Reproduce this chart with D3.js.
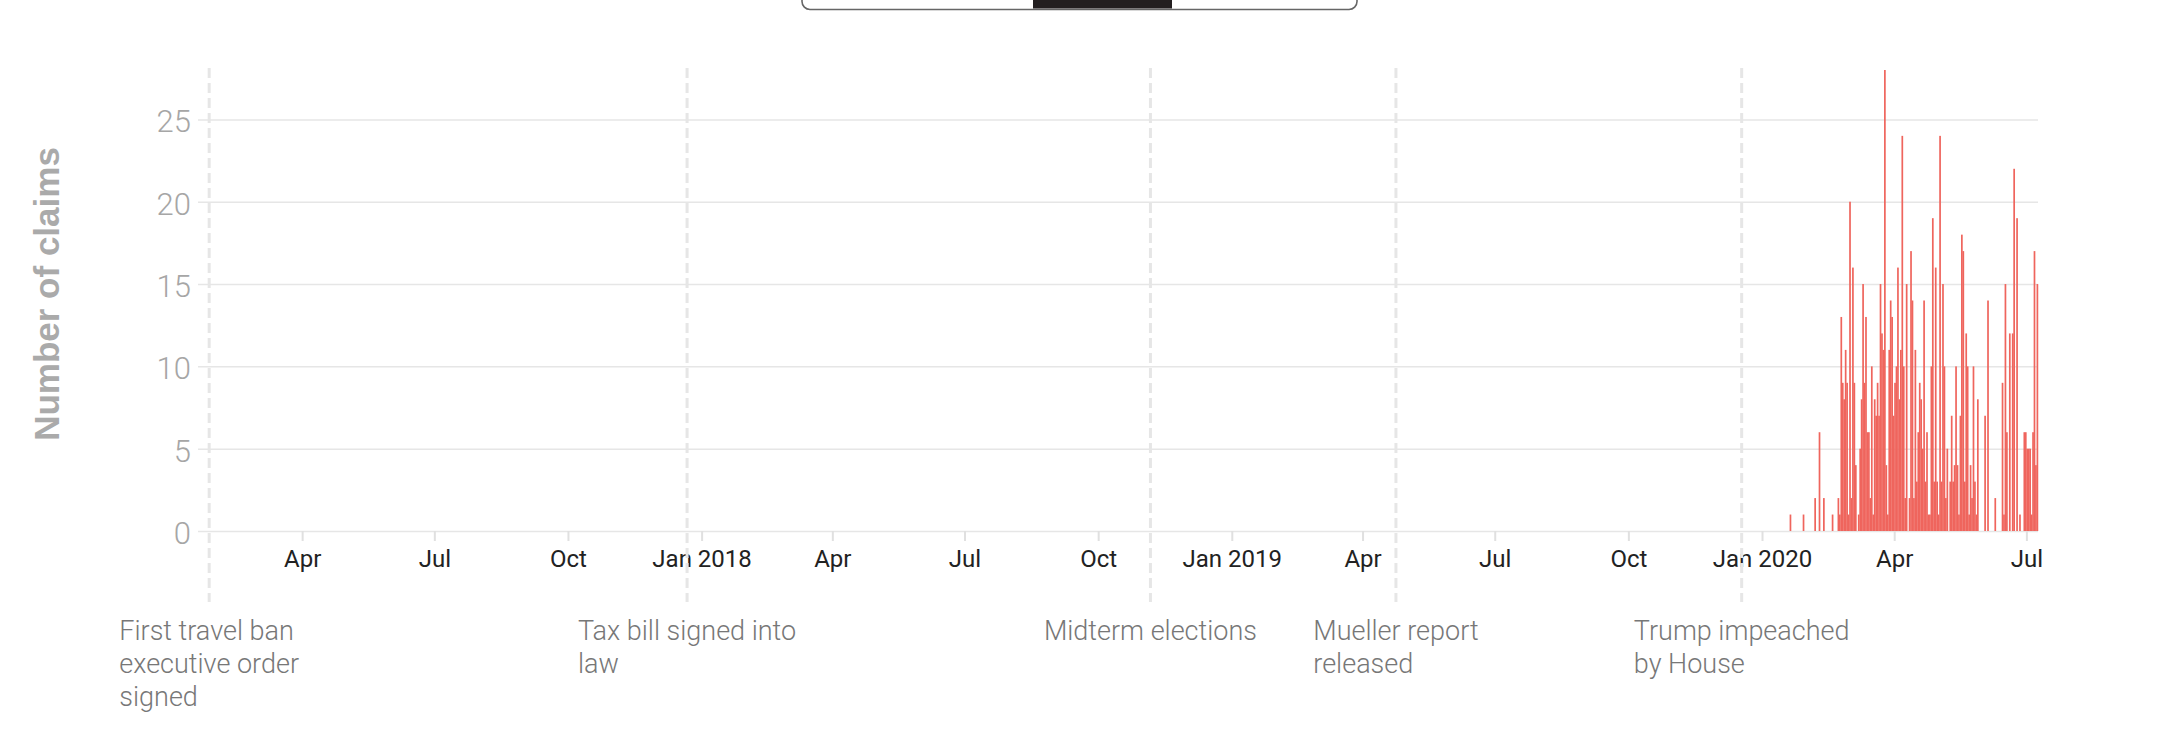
<!DOCTYPE html>
<html>
<head>
<meta charset="utf-8">
<script src="https://cdn.jsdelivr.net/npm/d3@7"></script>
<style>
  body { margin: 0; background: #fff; }
  svg { display: block; }
</style>
</head>
<body>
<div id="chart"></div>
<script>
// y axis ticks
const yTicks = [0, 5, 10, 15, 20, 25];

// x axis ticks, every three months
const xTickDates = ["2017-04-01", "2017-07-01", "2017-10-01", "2018-01-01", "2018-04-01", "2018-07-01",
  "2018-10-01", "2019-01-01", "2019-04-01", "2019-07-01", "2019-10-01", "2020-01-01", "2020-04-01", "2020-07-01"];

// events marked with dashed lines
const eventDates = ["2017-01-27", "2017-12-22", "2018-11-06", "2019-04-24", "2019-12-18"];
const eventLabels = [
  ["First travel ban", "executive order", "signed"],
  ["Tax bill signed into", "law"],
  ["Midterm elections"],
  ["Mueller report", "released"],
  ["Trump impeached", "by House"]
];

// claims per day (days not listed had none)
const claimDates = [
  "2020-01-20", "2020-01-29", "2020-02-06", "2020-02-09", "2020-02-12", "2020-02-18",
  "2020-02-22", "2020-02-23", "2020-02-24", "2020-02-25", "2020-02-26", "2020-02-27", "2020-02-28", "2020-02-29",
  "2020-03-01", "2020-03-02", "2020-03-03", "2020-03-04", "2020-03-05", "2020-03-07", "2020-03-08", "2020-03-09",
  "2020-03-10", "2020-03-11", "2020-03-12", "2020-03-13", "2020-03-14", "2020-03-15", "2020-03-16", "2020-03-17",
  "2020-03-18", "2020-03-19", "2020-03-20", "2020-03-21", "2020-03-22", "2020-03-23", "2020-03-24", "2020-03-25",
  "2020-03-26", "2020-03-27", "2020-03-28", "2020-03-29", "2020-03-30", "2020-03-31",
  "2020-04-01", "2020-04-02", "2020-04-03", "2020-04-04", "2020-04-05", "2020-04-06", "2020-04-07", "2020-04-08",
  "2020-04-09", "2020-04-11", "2020-04-12", "2020-04-13", "2020-04-14", "2020-04-15", "2020-04-16", "2020-04-17",
  "2020-04-18", "2020-04-19", "2020-04-20", "2020-04-21", "2020-04-22", "2020-04-23", "2020-04-24", "2020-04-25",
  "2020-04-26", "2020-04-27", "2020-04-28", "2020-04-29", "2020-04-30",
  "2020-05-01", "2020-05-02", "2020-05-03", "2020-05-04", "2020-05-05", "2020-05-06", "2020-05-07", "2020-05-09",
  "2020-05-10", "2020-05-11", "2020-05-12", "2020-05-13", "2020-05-14", "2020-05-15", "2020-05-16", "2020-05-17",
  "2020-05-18", "2020-05-19", "2020-05-20", "2020-05-21", "2020-05-22", "2020-05-23", "2020-05-24", "2020-05-25",
  "2020-05-26", "2020-05-27", "2020-05-28",
  "2020-06-02", "2020-06-04", "2020-06-09", "2020-06-14", "2020-06-15", "2020-06-16", "2020-06-17", "2020-06-19",
  "2020-06-21", "2020-06-22", "2020-06-24", "2020-06-26", "2020-06-29", "2020-06-30",
  "2020-07-01", "2020-07-02", "2020-07-03", "2020-07-04", "2020-07-05", "2020-07-06", "2020-07-07", "2020-07-08"
];
const claimCounts = [
  1, 1, 2, 6, 2, 1,
  2, 1, 13, 9, 8, 11, 9, 1,
  20, 2, 16, 9, 4, 1, 5, 8,
  15, 9, 13, 6, 6, 2, 10, 1,
  8, 7, 9, 7, 15, 12, 11, 28,
  4, 1, 11, 14, 13, 7,
  9, 10, 16, 8, 11, 24, 10, 2,
  15, 2, 17, 14, 2, 11, 3, 6,
  9, 8, 5, 14, 3, 6, 1, 1,
  10, 19, 3, 16, 3,
  1, 24, 3, 15, 10, 2, 5, 3,
  7, 3, 4, 10, 4, 1, 7, 18,
  17, 3, 12, 10, 1, 4, 2, 10,
  3, 1, 8,
  7, 14, 2, 9, 1, 15, 6, 12,
  12, 22, 19, 1, 6, 6,
  5, 5, 5, 1, 6, 17, 4, 15
];

const width = 2160, height = 742;
const parse = d3.utcParse("%Y-%m-%d");

const svg = d3.select("#chart").append("svg")
  .attr("width", width)
  .attr("height", height)
  .style("background", "#fff");

const x = d3.scaleUtc()
  .domain([parse("2017-01-20"), parse("2020-07-09")])
  .range([199, 2038]);

const y = d3.scaleLinear()
  .domain([0, 28])
  .range([531, 70]);

// toggle buttons cut off at the top
const btn = svg.append("g");
btn.append("rect")
  .attr("x", 802).attr("y", -20)
  .attr("width", 555).attr("height", 29.5)
  .attr("rx", 8)
  .attr("fill", "#fff")
  .attr("stroke", "#666")
  .attr("stroke-width", 1.6);
btn.append("rect")
  .attr("x", 1033).attr("y", -20)
  .attr("width", 139).attr("height", 28.5)
  .attr("fill", "#231f20");

// y grid + labels
const yAxis = svg.append("g")
  .attr("transform", "translate(198,0)")
  .call(d3.axisLeft(y).tickValues(yTicks).tickSize(-1840).tickPadding(7));
yAxis.select(".domain").remove();
yAxis.selectAll("line").attr("stroke", "#e6e6e6").attr("stroke-width", 1.5);
yAxis.selectAll("text")
  .attr("dy", "0.4em")
  .attr("fill", "#a6a6a6")
  .style("font-family", "Roboto, sans-serif")
  .style("font-weight", 300)
  .style("font-size", "31px");

// y title
svg.append("text")
  .attr("transform", "translate(59,294) rotate(-90)")
  .attr("text-anchor", "middle")
  .attr("fill", "#aaaaaa")
  .style("font-family", "'Liberation Sans', Arial, sans-serif")
  .style("font-weight", 700)
  .style("font-size", "35px")
  .text("Number of claims");

// x axis
const xAxis = svg.append("g")
  .attr("transform", "translate(0,531)")
  .call(d3.axisBottom(x)
    .tickValues(xTickDates.map(parse))
    .tickSize(10)
    .tickFormat(d => d.getUTCMonth() === 0 ? d3.utcFormat("%b %Y")(d) : d3.utcFormat("%b")(d)));
xAxis.select(".domain").remove();
xAxis.selectAll("line").attr("stroke", "#e0e0e0").attr("stroke-width", 2);
xAxis.selectAll("text")
  .attr("y", 36)
  .attr("dy", 0)
  .attr("fill", "#222")
  .style("font-family", "Roboto, sans-serif")
  .style("font-size", "24px");

// bars, one per day (a hair wider so neighbours don't show seams)
const bars = claimDates.map((d, i) => ({date: parse(d), value: claimCounts[i]}));
svg.append("g")
  .selectAll("rect")
  .data(bars).enter()
  .append("rect")
  .attr("fill", "#ef655d")
  .attr("x", d => x(d.date))
  .attr("width", d => x(d3.utcDay.offset(d.date, 1)) - x(d.date) + 0.25)
  .attr("y", d => y(d.value))
  .attr("height", d => y(0) - y(d.value));

// event lines and labels
const events = eventDates.map((d, i) => ({date: parse(d), lines: eventLabels[i]}));
const ev = svg.append("g")
  .selectAll("g")
  .data(events).enter()
  .append("g");

ev.append("line")
  .attr("x1", d => x(d.date)).attr("x2", d => x(d.date))
  .attr("y1", 68).attr("y2", 602)
  .attr("stroke", "#e6e6e6")
  .attr("stroke-width", 3)
  .attr("stroke-dasharray", "10,5");

ev.each(function(d) {
  const t = d3.select(this).append("text")
    .attr("fill", "#777")
    .style("font-family", "Roboto, sans-serif")
    .style("font-weight", 300)
    .style("font-size", "27px");
  const spans = t.selectAll("tspan")
    .data(d.lines).enter()
    .append("tspan")
    .attr("y", (l, i) => 640 + i * 33)
    .text(l => l);
  // block as wide as its longest line, centred on the event line
  let maxW = 0;
  spans.each(function() { maxW = Math.max(maxW, this.getComputedTextLength()); });
  spans.attr("x", x(d.date) - maxW / 2);
});
</script>
</body>
</html>
